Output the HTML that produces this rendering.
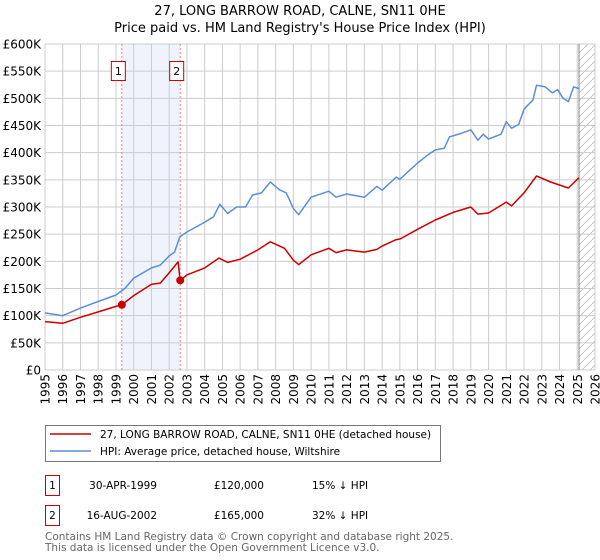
<!DOCTYPE html>
<html><head><meta charset="utf-8"><style>
body{margin:0;background:#fff;font-family:"DejaVu Sans","Liberation Sans",sans-serif;}
svg{display:block}
</style></head><body>
<svg width="600" height="560" viewBox="0 0 600 560" xmlns="http://www.w3.org/2000/svg">
<g id="root"></g>
</svg>
<script>
const hpiYears=[1995,1996,1997,1998,1999,1999.5,2000,2001,2001.5,2002,2002.3,2002.6,2003,2003.5,2004,2004.5,2004.85,2005.3,2005.8,2006.3,2006.7,2007.2,2007.7,2008.2,2008.6,2009,2009.3,2010,2011,2011.4,2012,2013,2013.7,2014,2014.8,2015,2016,2016.5,2017,2017.5,2017.8,2018.5,2019,2019.4,2019.7,2020,2020.7,2021,2021.3,2021.7,2022,2022.5,2022.7,2023.2,2023.6,2023.9,2024.2,2024.5,2024.8,2025.1];
const hpiValues=[105,100,114,126,138,150,169,188,193,210,217,245,254,263,272,282,305,288,300,300,322,326,346,332,326,297,286,318,329,318,324,318,338,331,355,351,381,394,405,408,429,436,442,423,434,425,434,457,445,452,480,497,524,521,510,516,500,494,521,518];
const priceYears=[1995,1996,1997,1998,1999,1999.33,2000,2001,2001.5,2002,2002.5,2002.62,2003,2004,2004.8,2005.3,2006,2007,2007.7,2008.5,2009,2009.3,2010,2011,2011.4,2012,2013,2013.7,2014,2014.8,2015,2016,2017,2018,2019,2019.4,2020,2021,2021.3,2022,2022.7,2023.5,2024.5,2025.1];
const priceValues=[89,86,97,107,117,120,137,158,160,179,199,165,175,188,206,198,204,221,236,224,202,194,212,224,216,221,217,222,228,240,241,259,276,290,300,287,289,309,302,326,357,346,335,354];
const sales=[{n:"1",year:1999.33,value:120,date:"30-APR-1999",price:"£120,000",hpi:"15% ↓ HPI"},{n:"2",year:2002.62,value:165,date:"16-AUG-2002",price:"£165,000",hpi:"32% ↓ HPI"}];
const yTicks=[0,50,100,150,200,250,300,350,400,450,500,550,600];
const yTickLabels=["£0","£50K","£100K","£150K","£200K","£250K","£300K","£350K","£400K","£450K","£500K","£550K","£600K"];
const xTicks=[];for(let y=1995;y<=2026;y++)xTicks.push(y);

const L=45,R=595,T=44,B=370;
const x=v=>L+(v-1995)*(R-L)/31;
const y=v=>B-v*(B-T)/600;
const NS="http://www.w3.org/2000/svg";
const root=document.getElementById('root');
function mk(tag,attrs,parent,text){const e=document.createElementNS(NS,tag);for(const k in attrs)e.setAttribute(k,attrs[k]);if(text!==undefined)e.textContent=text;(parent||root).appendChild(e);return e;}

const defs=mk('defs',{});
const pat=mk('pattern',{id:'hatch',width:8,height:8,patternUnits:'userSpaceOnUse'},defs);
mk('path',{d:'M0,8 L8,0',stroke:'#bbb','stroke-width':0.8},pat);

let e=mk('rect',{x:x(sales[0].year),y:T,width:x(sales[1].year)-x(sales[0].year),height:B-T,fill:'#eef3fc'});

e=mk('rect',{x:x(2025.1),y:T,width:R-x(2025.1),height:B-T,fill:'url(#hatch)'});


const grid=mk('g',{stroke:'#cccccc','stroke-width':1});

xTicks.forEach(t=>mk('line',{x1:x(t),x2:x(t),y1:T,y2:B},grid));
yTicks.forEach(t=>mk('line',{x1:L,x2:R,y1:y(t),y2:y(t)},grid));
e=mk('line',{x1:x(2025.1),x2:x(2025.1),y1:T,y2:B,stroke:'#888','stroke-width':1});


const yl=mk('g',{'font-size':12,'text-anchor':'end',fill:'#000'});

yTicks.forEach((t,i)=>{const s=mk('text',{x:41,y:y(t)+4.5},yl,yTickLabels[i]);});
const xl=mk('g',{'font-size':12,'text-anchor':'end',fill:'#000'});

xTicks.forEach(t=>{const s=mk('text',{x:0,y:0,transform:`translate(${x(t)+4.5},374) rotate(-90)`},xl,String(t));});

sales.forEach(s=>{
 const l=mk('line',{x1:x(s.year),x2:x(s.year),y1:T,y2:B,stroke:'#f08080','stroke-width':1,'stroke-dasharray':'2,2'});
 
 const g=mk('g',{});
 mk('rect',{x:x(s.year)-10.5,y:61.5,width:14,height:19,fill:'#fff',stroke:'#cc0000','stroke-width':1},g);
 mk('text',{x:x(s.year)-3.5,y:75,'font-size':11,'text-anchor':'middle'},g,s.n);
});

function path(xs,vs){return xs.map((t,i)=>(i?'L':'M')+x(t).toFixed(1)+','+y(vs[i]).toFixed(1)).join(' ');}
e=mk('path',{d:path(hpiYears,hpiValues),fill:'none',stroke:'#5b8fd6','stroke-width':1.5,'stroke-linejoin':'round'});

e=mk('path',{d:path(priceYears,priceValues),fill:'none',stroke:'#cc0000','stroke-width':1.5,'stroke-linejoin':'round'});

sales.forEach(s=>{const c=mk('circle',{cx:x(s.year),cy:y(s.value),r:4,fill:'#cc0000'});});

const tg=mk('g',{'font-size':13,'text-anchor':'middle'});
mk('text',{x:300,y:15},tg,'27, LONG BARROW ROAD, CALNE, SN11 0HE');
mk('text',{x:300,y:32},tg,"Price paid vs. HM Land Registry's House Price Index (HPI)");

const lg=mk('g',{'font-size':10.5});
mk('rect',{x:45.5,y:425.5,width:395,height:36,fill:'#fff',stroke:'#777'},lg);
let le=mk('g',{},lg);
mk('line',{x1:50,x2:91,y1:434,y2:434,stroke:'#cc0000','stroke-width':1.5},le);
mk('text',{x:100,y:438},le,'27, LONG BARROW ROAD, CALNE, SN11 0HE (detached house)');
le=mk('g',{},lg);
mk('line',{x1:50,x2:91,y1:451,y2:451,stroke:'#5b8fd6','stroke-width':1.5},le);
mk('text',{x:100,y:455},le,'HPI: Average price, detached house, Wiltshire');

sales.forEach((s,i)=>{
 const yy=475+i*30;
 const g=mk('g',{'font-size':10.5});
 mk('rect',{x:45.5,y:yy+0.5,width:14,height:20,fill:'#fff',stroke:'#cc0000'},g);
 mk('text',{x:52.5,y:yy+14,'text-anchor':'middle'},g,s.n);
 mk('text',{x:157,y:yy+14,'text-anchor':'end'},g,s.date);
 mk('text',{x:264,y:yy+14,'text-anchor':'end'},g,s.price);
 mk('text',{x:312,y:yy+14},g,s.hpi);
});
const ft=mk('g',{'font-size':10.5,fill:'#666'});
mk('text',{x:45,y:540},ft,'Contains HM Land Registry data © Crown copyright and database right 2025.');
mk('text',{x:45,y:551},ft,'This data is licensed under the Open Government Licence v3.0.');
</script>
</body></html>
